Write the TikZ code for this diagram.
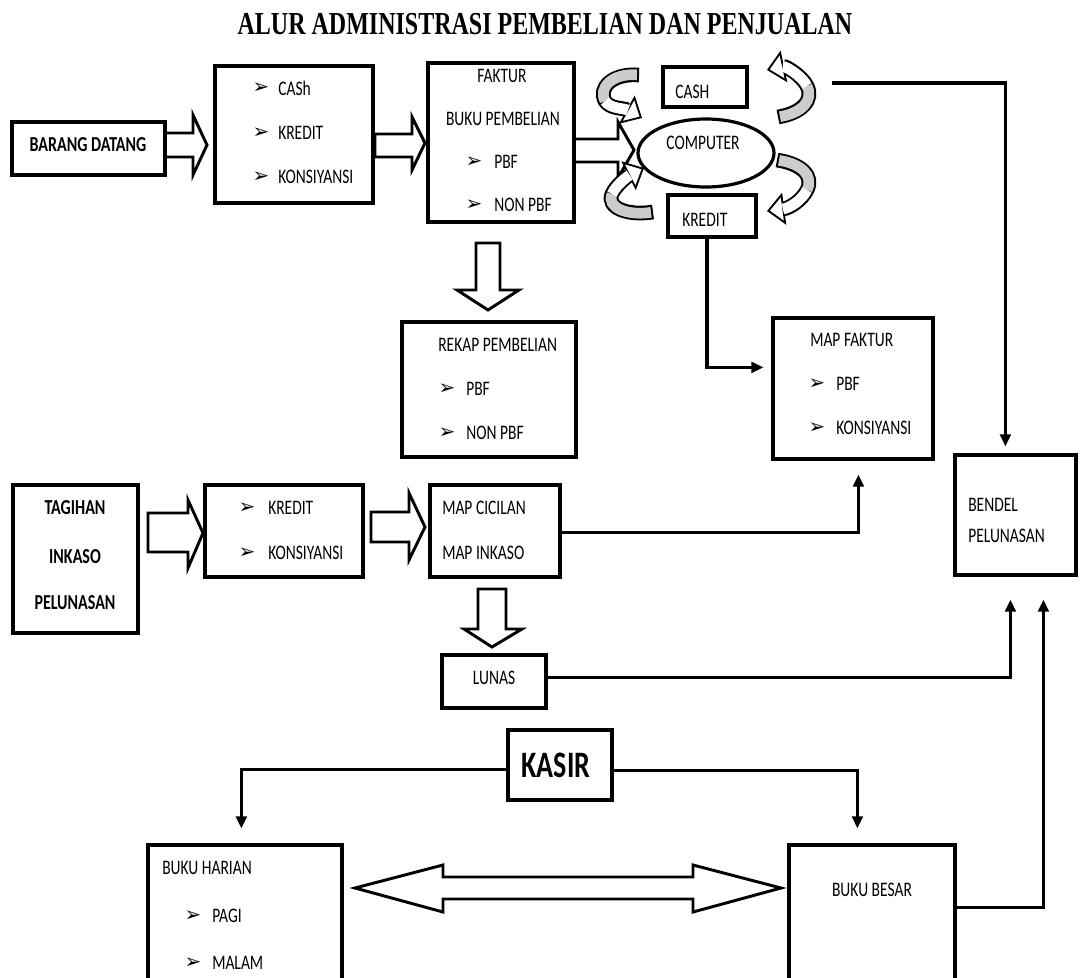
\documentclass[tikz,border=0pt]{standalone}
\usepackage{fontspec}
\setmainfont{Carlito}[FakeStretch=0.75]
\newfontfamily\titlefont{Liberation Serif}[FakeStretch=0.75]
\newfontfamily\dingfont{DejaVu Sans}
\usetikzlibrary{arrows.meta,shapes.geometric,fit,calc}
\begin{document}
\begin{tikzpicture}[x=0.75pt,y=-0.75pt,
  box/.style={draw, line width=2.4pt, inner sep=0pt},
  txt/.style={font=\fontsize{15.5}{18}\selectfont, inner sep=0pt},
  btxt/.style={font=\fontsize{16}{18}\selectfont\bfseries, inner sep=0pt},
  bul/.style={font=\dingfont\fontsize{15}{16}\selectfont, inner sep=0pt},
  conn/.style={line width=2.4pt, -{Triangle[length=9pt,width=8pt]}},
  blk/.style={draw, fill=white, line width=2.2pt},
  cout/.style={line width=11pt, -{Triangle[length=13pt,width=24pt,line width=1.4pt,fill=white]}},
  cgray/.style={line width=8pt, draw=gray!40},
  cwhite/.style={line width=8pt, draw=white},
]
\useasboundingbox (0,0) rectangle (1090,978);
\fill[white] (0,0) rectangle (1090,978);

% title
\node[font=\titlefont\bfseries\fontsize{24}{28}\selectfont, inner sep=0pt] (title) at (545,24) {ALUR ADMINISTRASI PEMBELIAN DAN PENJUALAN};

% block arrows
\draw[blk] (165,133) -- (193,133) -- (193,115) -- (207,145) -- (193,175) -- (193,157) -- (165,157) -- cycle;
\draw[blk] (375,134) -- (412,134) -- (412,117) -- (425,143) -- (412,170) -- (412,157) -- (375,157) -- cycle;
\draw[blk] (574,139) -- (618,139) -- (618,122) -- (634,150) -- (618,178) -- (618,162) -- (574,162) -- cycle;
\draw[blk] (476,243) -- (500,243) -- (500,290) -- (519,290) -- (488,310) -- (457,290) -- (476,290) -- cycle;
\draw[blk] (148,513) -- (188,513) -- (188,500) -- (203,533) -- (188,568) -- (188,552) -- (148,552) -- cycle;
\draw[blk] (371,512) -- (409,512) -- (409,493) -- (425,527) -- (409,560) -- (409,542) -- (371,542) -- cycle;
\draw[blk] (478,589) -- (506,589) -- (506,629) -- (522,629) -- (492,647) -- (464,629) -- (478,629) -- cycle;
\draw[blk] (355,888) -- (443,865) -- (443,877) -- (693,877) -- (693,865) -- (781,888) -- (693,912) -- (693,899) -- (443,899) -- (443,912) -- cycle;

% boxes
\node[box, fit={(12,122) (165,175)}] (barang) {};
\node[box, fit={(215,66) (373,203)}] (jenis) {};
\node[box, fit={(428,63) (574,222)}] (faktur) {};
\node[box, fit={(402,322) (576,457)}] (rekap) {};
\node[box, fit={(663,67) (747,107)}] (cash) {};
\node[box, ellipse, minimum width=102pt, minimum height=51pt] (comp) at (706,153) {};
\node[box, fit={(668,195) (756,237)}] (kredit) {};
\node[box, fit={(773,318) (933,459)}] (mapf) {};
\node[box, fit={(955,455) (1076,575)}] (bendel) {};
\node[box, fit={(13,485) (138,633)}] (tagihan) {};
\node[box, fit={(205,485) (363,577)}] (jenis2) {};
\node[box, fit={(430,485) (560,577)}] (mapc) {};
\node[box, fit={(442,655) (546,708)}] (lunas) {};
\node[box, fit={(508,730) (612,800)}] (kasir) {};
\node[box, fit={(148,845) (342,990)}] (harian) {};
\node[box, fit={(789,845) (955,990)}] (besar) {};

% texts
\node[btxt] (tbarang) at (88,145) {BARANG DATANG};
\node[bul] (b1) at (261,88) {➢};
\node[txt, anchor=west] (t1) at (278,88) {CASh};
\node[bul] (b2) at (261,133) {➢};
\node[txt, anchor=west] (t2) at (278,133) {KREDIT};
\node[bul] (b3) at (261,177) {➢};
\node[txt, anchor=west] (t3) at (278,177) {KONSIYANSI};

\node[txt] (tfak) at (502,76) {FAKTUR};
\node[txt] (tbuku) at (503,119) {BUKU PEMBELIAN};
\node[bul] (b4) at (474,162) {➢};
\node[txt, anchor=west] (t4) at (494,162) {PBF};
\node[bul] (b5) at (474,205) {➢};
\node[txt, anchor=west] (t5) at (494,205) {NON PBF};

\node[txt, anchor=west] (trekap) at (438,345) {REKAP PEMBELIAN};
\node[bul] (b6) at (447,389) {➢};
\node[txt, anchor=west] (t6) at (466,389) {PBF};
\node[bul] (b7) at (447,433) {➢};
\node[txt, anchor=west] (t7) at (466,433) {NON PBF};

\node[txt, anchor=west] (tcash) at (675,92) {CASH};
\node[txt] (tcomp) at (703,143) {COMPUTER};
\node[txt, anchor=west] (tkred) at (682,220) {KREDIT};

\node[txt, anchor=west] (tmapf) at (810,340) {MAP FAKTUR};
\node[bul] (b8) at (817,384) {➢};
\node[txt, anchor=west] (t8) at (836,384) {PBF};
\node[bul] (b9) at (817,428) {➢};
\node[txt, anchor=west] (t9) at (836,428) {KONSIYANSI};

\node[txt, anchor=west] (tbend1) at (968,505) {BENDEL};
\node[txt, anchor=west] (tbend2) at (968,536) {PELUNASAN};

\node[btxt] (ttag1) at (75,508) {TAGIHAN};
\node[btxt] (ttag2) at (75,557) {INKASO};
\node[btxt] (ttag3) at (75,603) {PELUNASAN};

\node[bul] (b10) at (247,508) {➢};
\node[txt, anchor=west] (t10) at (268,508) {KREDIT};
\node[bul] (b11) at (247,553) {➢};
\node[txt, anchor=west] (t11) at (268,553) {KONSIYANSI};

\node[txt, anchor=west] (tmapc1) at (442,508) {MAP CICILAN};
\node[txt, anchor=west] (tmapc2) at (442,553) {MAP INKASO};

\node[txt] (tlunas) at (494,678) {LUNAS};
\node[font=\fontsize{28}{30}\selectfont\bfseries, inner sep=0pt] (tkasir) at (556,765) {KASIR};

\node[txt, anchor=west] (thar) at (162,868) {BUKU HARIAN};
\node[bul] (b12) at (193,916) {➢};
\node[txt, anchor=west] (t12) at (212,916) {PAGI};
\node[bul] (b13) at (193,963) {➢};
\node[txt, anchor=west] (t13) at (212,963) {MALAM};

\node[txt] (tbesar) at (872,890) {BUKU BESAR};

% connectors
\coordinate (c1s) at (832,83);
\draw[conn] (c1s) -| ($(bendel.north west)+(52,-7)$);
\draw[conn] ($(kredit.south)+(-5,0)$) |- ($(mapf.north west)+(-8,51)$);
\draw[conn] ($(mapc.north east)+(0,49)$) -| ($(mapf.south west)+(87,14)$);
\draw[conn] ($(lunas.north east)+(0,24)$) -| ($(bendel.south west)+(57,23)$);
\draw[conn] ($(besar.north east)+(0,64)$) -| ($(bendel.south west)+(90,23)$);
\draw[conn] ($(kasir.north west)+(0,41)$) -| ($(harian.north west)+(95,-15)$);
\draw[conn] ($(kasir.north east)+(0,42)$) -| ($(besar.north west)+(70,-15)$);

% curved arrows around COMPUTER
\draw[cout] (639,75) .. controls (612,73) and (598,88) .. (605,101) .. controls (610,109) and (624,108) .. (642,118);
\draw[cgray, shorten <=1.5pt] (639,75) .. controls (612,73) and (598,88) .. (605,101);
\draw[cwhite, shorten >=12pt] (605,101) .. controls (610,109) and (624,108) .. (642,118);

\draw[cout] (653,212) .. controls (628,216) and (606,208) .. (612,194) .. controls (616,185) and (628,176) .. (644,168);
\draw[cgray, shorten <=1.5pt] (653,212) .. controls (628,216) and (606,208) .. (612,194);
\draw[cwhite, shorten >=12pt] (612,194) .. controls (616,185) and (628,176) .. (644,168);

\draw[cout] (778,117) .. controls (802,113) and (814,100) .. (807,86) .. controls (802,76) and (786,66) .. (767,70);
\draw[cgray, shorten <=1.5pt] (778,117) .. controls (802,113) and (814,100) .. (807,86);
\draw[cwhite, shorten >=12pt] (807,86) .. controls (802,76) and (786,66) .. (767,70);

\draw[cout] (777,160) .. controls (802,164) and (814,176) .. (807,190) .. controls (802,200) and (790,208) .. (767,211);
\draw[cgray, shorten <=1.5pt] (777,160) .. controls (802,164) and (814,176) .. (807,190);
\draw[cwhite, shorten >=12pt] (807,190) .. controls (802,200) and (790,208) .. (767,211);
\end{tikzpicture}
\end{document}
